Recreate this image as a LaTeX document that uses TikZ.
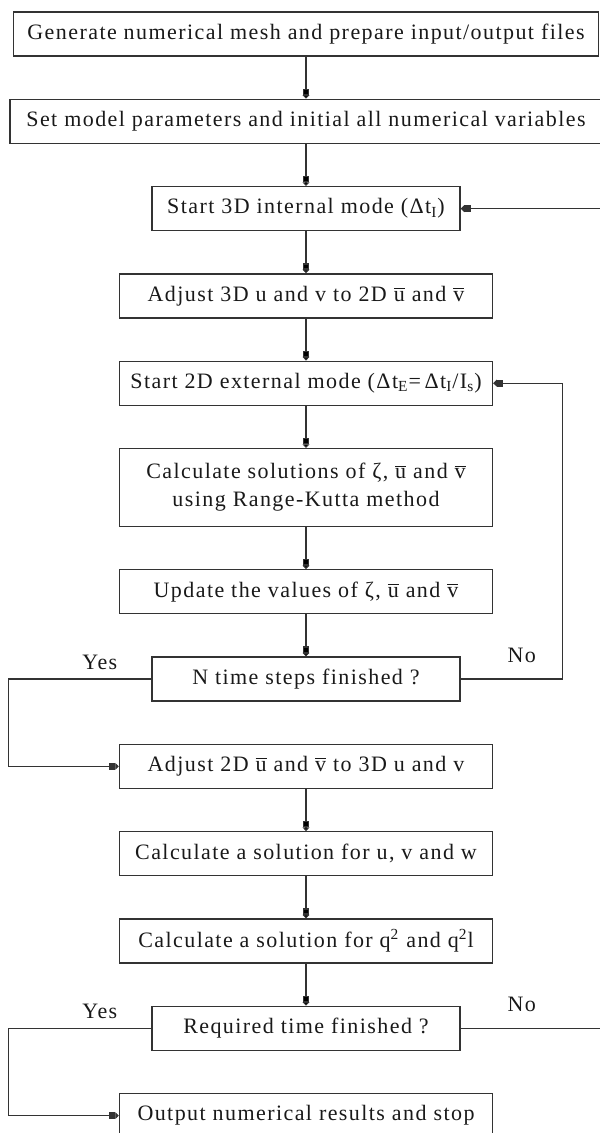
\documentclass[tikz,border=0pt]{standalone}
\usepackage{fontspec}
\setmainfont{Liberation Serif}[LetterSpace=6.5]
\usetikzlibrary{positioning,arrows.meta}

\begin{document}
\begin{tikzpicture}[node distance=21pt,
    box/.style={
      % The shape:
      rectangle,minimum height=22pt,minimum width=186.5pt,inner sep=2pt,
      % The rest
      draw=black!80,line width=0.65pt,text=black!90,
      font=\fontsize{11}{14}\selectfont,align=center},
    widebox/.style={box,minimum width=292.5pt},
    testbox/.style={box,minimum width=154pt},
    flow/.style={draw=black!80,line width=0.65pt,
      -{Rectangle[length=3.2pt,width=3.4pt]Triangle[length=1.8pt,width=3.4pt]}},
    lbl/.style={text=black!90,font=\fontsize{11}{14}\selectfont}]
    \useasboundingbox (0,0) rectangle (299.5pt,-566.5pt);
    \node (gen) [widebox] at (153pt,-17pt) {Generate numerical mesh and prepare input/output files};
    \node (set) [widebox,minimum width=296pt,below=of gen] {Set model parameters and initial all numerical variables};
    \node (start3d) [testbox,below=of set] {Start 3D internal mode (Δt\textsubscript{I})};
    \node (adj3d) [box,below=of start3d] {Adjust 3D u and v to 2D $\overline{\mbox{u}}$ and $\overline{\mbox{v}}$};
    \node (start2d) [box,below=of adj3d] {Start 2D external mode (Δt\textsubscript{E}=\,Δt\textsubscript{I}/I\textsubscript{s})};
    \node (rk) [box,minimum height=39pt,below=of start2d] {Calculate solutions of ζ, $\overline{\mbox{u}}$ and $\overline{\mbox{v}}$\\ using Range-Kutta method};
    \node (update) [box,below=of rk] {Update the values of ζ, $\overline{\mbox{u}}$ and $\overline{\mbox{v}}$};
    \node (nsteps) [testbox,below=of update] {N time steps finished ?};
    \node (adj2d) [box,below=of nsteps] {Adjust 2D $\overline{\mbox{u}}$ and $\overline{\mbox{v}}$ to 3D u and v};
    \node (uvw) [box,below=of adj2d] {Calculate a solution for u, v and w};
    \node (turb) [box,below=of uvw] {Calculate a solution for q\textsuperscript{2} and q\textsuperscript{2}l};
    \node (reqtime) [testbox,below=of turb] {Required time finished ?};
    \node (output) [box,below=of reqtime] {Output numerical results and stop};
    % main line
    \draw[flow] (gen) edge (set);
    \draw[flow] (set) edge (start3d);
    \draw[flow] (start3d) edge (adj3d);
    \draw[flow] (adj3d) edge (start2d);
    \draw[flow] (start2d) edge (rk);
    \draw[flow] (rk) edge (update);
    \draw[flow] (update) edge (nsteps);
    \draw[flow] (adj2d) edge (uvw);
    \draw[flow] (uvw) edge (turb);
    \draw[flow] (turb) edge (reqtime);
    % external mode loop
    \draw[flow] (nsteps.east) -- node[lbl,above=4.5pt,pos=0.6] {No} ++(51pt,0) |- (start2d.east);
    \draw[flow] (nsteps.west) -- node[lbl,above=1.2pt,pos=0.36] {Yes} ++(-71.5pt,0) |- (adj2d.west);
    % internal mode loop
    \draw[flow] (reqtime.east) -- node[lbl,above=4.5pt,pos=0.41] {No} ++(74.5pt,0) |- (start3d.east);
    \draw[flow] (reqtime.west) -- node[lbl,above=1.2pt,pos=0.36] {Yes} ++(-71.5pt,0) |- (output.west);
  \end{tikzpicture}
\end{document}
